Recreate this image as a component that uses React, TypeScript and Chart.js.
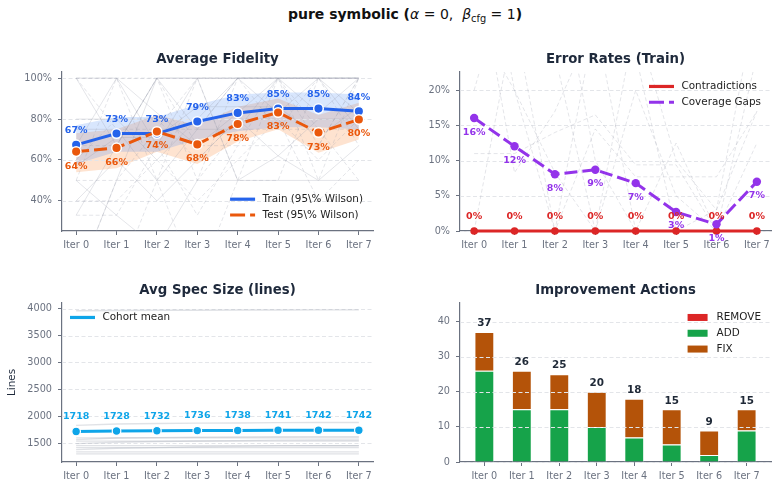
import { useEffect, useRef } from "react";
import { Chart, registerables } from "chart.js";

Chart.register(...registerables);

const FONT = "'DejaVu Sans', 'Liberation Sans', sans-serif";

// ---- shared iteration axis ----
const iterations = [0, 1, 2, 3, 4, 5, 6, 7];
const iterLabels = ["Iter 0", "Iter 1", "Iter 2", "Iter 3", "Iter 4", "Iter 5", "Iter 6", "Iter 7"];

// ---- Average Fidelity (%) ----
const trainFidelity = [67.4, 72.9, 72.9, 78.8, 83.0, 85.1, 85.1, 83.8];
const testFidelity = [64.1, 65.9, 73.9, 67.6, 77.6, 83.2, 73.4, 79.8];
const trainHigh = [77, 81, 81, 87, 92, 93, 93, 92];
const trainLow = [58, 64, 64, 70, 74, 76, 76, 75];
const testHigh = [73, 75, 82, 77, 86, 90, 82, 88];
const testLow = [54, 56, 64, 58, 69, 75, 63.5, 70];
const fidelityTicks = [40, 60, 80, 100];

// per-spec trajectories behind the means
const trainRuns = [
  [100, 67, 100, 100, 100, 100, 100, 100],
  [33, 67, 100, 75, 100, 100, 83, 100],
  [50, 33, 17, 50, 50, 62, 50, 50],
  [100, 100, 83, 67, 83, 100, 100, 100],
  [67, 100, 67, 100, 100, 83, 100, 83],
  [57, 71, 71, 86, 86, 86, 71, 86],
  [0, 50, 100, 100, 50, 50, 50, 67],
  [80, 80, 60, 80, 100, 100, 100, 100],
  [40, 60, 40, 60, 80, 62, 80, 80],
  [75, 75, 50, 75, 75, 100, 100, 75],
];
const testRuns = [
  [100, 100, 100, 50, 100, 100, 67, 100],
  [50, 50, 75, 75, 100, 100, 75, 75],
  [33, 33, 67, 33, 67, 67, 67, 100],
  [0, 50, 50, 100, 50, 100, 50, 100],
  [67, 67, 100, 67, 67, 100, 100, 67],
  [60, 80, 80, 60, 80, 80, 60, 80],
  [25, 0, 50, 50, 75, 75, 75, 50],
  [100, 75, 75, 100, 100, 75, 100, 100],
  [40, 40, 60, 40, 60, 80, 40, 60],
  [50, 100, 50, 0, 50, 50, 100, 100],
];

// ---- Error Rates (Train, %) ----
const contradictions = [0, 0, 0, 0, 0, 0, 0, 0];
const coverageGaps = [16.05, 12.04, 8.07, 8.7, 6.8, 2.7, 0.95, 7.0];
const errorTicks = [0, 5, 10, 15, 20];
const gapRuns = [
  [0, 30, 40, 10, 0, 0, 0, 0],
  [30, 20, 0, 30, 25, 0, 3, 17],
  [11, 11, 14, 16.5, 9.4, 9.4, 0, 12.5],
  [40, 8.3, 17, 30, 0, 12.5, 0, 25],
  [25, 30, 0, 14.5, 7.7, 7.7, 7.7, 17],
  [50, 20, 8.3, 0, 20, 5, 0, 0],
  [20, 40, 25, 0, 30, 10, 3, 33],
];

// ---- Avg Spec Size (lines) ----
const specMean = [1718, 1728, 1732, 1736, 1738, 1741, 1742, 1742];
const specTicks = [1500, 2000, 2500, 3000, 3500, 4000];
const specRuns = [
  [3960, 3965, 3968, 3970, 3972, 3974, 3975, 3975],
  [1833, 1858, 1866, 1874, 1878, 1884, 1886, 1886],
  [1600, 1600, 1600, 1600, 1600, 1600, 1600, 1600],
  [1568, 1598, 1606, 1612, 1616, 1622, 1624, 1624],
  [1540, 1540, 1540, 1540, 1540, 1540, 1540, 1540],
  [1494, 1520, 1532, 1544, 1550, 1558, 1562, 1562],
  [1457, 1457, 1457, 1457, 1457, 1457, 1457, 1457],
  [1420, 1420, 1420, 1420, 1420, 1420, 1420, 1420],
  [1383, 1407, 1420, 1436, 1442, 1453, 1455, 1455],
  [1340, 1340, 1340, 1340, 1340, 1340, 1340, 1340],
  [1303, 1303, 1303, 1303, 1303, 1303, 1303, 1303],
];

// ---- Improvement Actions (counts) ----
const removeCounts = [0, 0, 0, 0, 0, 0, 0, 0];
const addCounts = [26, 15, 15, 10, 7, 5, 2, 9];
const fixCounts = [11, 11, 10, 10, 11, 10, 7, 6];
const actionTicks = [0, 10, 20, 30, 40];

// ---- styling ----
const INK = "#1e293b";
const LEGEND_INK = "#222222";
const TICK = "#6b7280";
const SPINE = "#6b7280";
const GRID = "#e3e5e9";
const RUN = "rgba(150,156,170,0.26)";
const BLUE = "#2563eb";
const ORANGE = "#ea580c";
const RED = "#dc2626";
const PURPLE = "#9333ea";
const SKY = "#0ea5e9";
const GREEN = "#16a34a";
const BROWN = "#b45309";

const pts = (values: number[]) => values.map((y, i) => ({ x: iterations[i], y }));

function iterAxis(min: number, max: number, extra: any = {}) {
  return {
    type: "linear",
    min,
    max,
    offset: false,
    ...extra,
    afterBuildTicks: (s: any) => {
      s.ticks = iterations.map((v) => ({ value: v }));
    },
    afterFit: (s: any) => {
      s.height = 25;
    },
    ticks: {
      autoSkip: false,
      maxRotation: 0,
      color: TICK,
      padding: 5,
      font: { family: FONT, size: 9.7 },
      callback: (v: number) => iterLabels[v] ?? "",
    },
    grid: {
      offset: false,
      drawOnChartArea: false,
      drawTicks: true,
      tickLength: 4,
      tickColor: SPINE,
      lineWidth: 1,
    },
    border: { display: true, color: SPINE, width: 1.2 },
  };
}

function valueAxis(min: number, max: number, ticks: number[], fmt: (v: number) => string, title?: string, extra: any = {}) {
  return {
    type: "linear",
    min,
    max,
    ...extra,
    afterBuildTicks: (s: any) => {
      s.ticks = ticks.map((v) => ({ value: v }));
    },
    afterFit: (s: any) => {
      s.width = 62;
    },
    ticks: { color: TICK, padding: 6, font: { family: FONT, size: 9.7 }, callback: (v: number) => fmt(v) },
    grid: { drawOnChartArea: false, drawTicks: true, tickLength: 4, tickColor: SPINE, lineWidth: 1 },
    border: { display: true, color: SPINE, width: 1.2 },
    title: title
      ? { display: true, text: title, color: INK, font: { family: FONT, size: 10.4 }, padding: { top: 6, bottom: 0 } }
      : { display: false },
  };
}

function drawGrid(chart: any) {
  const { ctx, chartArea: a, scales } = chart;
  const y = scales.y;
  ctx.save();
  ctx.strokeStyle = GRID;
  ctx.lineWidth = 1;
  ctx.setLineDash([4, 2.5]);
  for (const t of y.ticks) {
    const py = Math.round(y.getPixelForValue(t.value)) + 0.5;
    ctx.beginPath();
    ctx.moveTo(a.left, py);
    ctx.lineTo(a.right, py);
    ctx.stroke();
  }
  ctx.restore();
}

// Dashed horizontal grid, drawn just before the first dataset whose order is <= below
// (or after all datasets when below is null, so it sits over bars).
function gridPlugin(below: number | null) {
  let done = false;
  return {
    id: "dashGrid",
    beforeDatasetsDraw() {
      done = false;
    },
    beforeDatasetDraw(chart: any, args: any) {
      if (below !== null && !done && args.meta.order <= below) {
        drawGrid(chart);
        done = true;
      }
    },
    afterDatasetsDraw(chart: any) {
      if (!done) {
        drawGrid(chart);
        done = true;
      }
    },
  };
}

type LabelSpec = { ds: number; values: number[]; fmt: (v: number) => string; color: string; dy: number; size: number; fromScale?: boolean };

function labelPlugin(specs: LabelSpec[]) {
  return {
    id: "valueLabels",
    afterDatasetsDraw(chart: any) {
      const ctx = chart.ctx;
      ctx.save();
      ctx.textAlign = "center";
      ctx.textBaseline = "middle";
      for (const s of specs) {
        const meta = chart.getDatasetMeta(s.ds);
        ctx.font = `bold ${s.size}px ${FONT}`;
        ctx.fillStyle = s.color;
        meta.data.forEach((el: any, i: number) => {
          const y = s.fromScale ? chart.scales.y.getPixelForValue(s.values[i]) : el.y;
          ctx.fillText(s.fmt(s.values[i]), el.x, y + s.dy);
        });
      }
      ctx.restore();
    },
  };
}

type LegendItem = { label: string; color: string; kind: "line" | "box"; dash?: number[] };

function legendPlugin(items: LegendItem[], corner: "ur" | "lr" | "ul") {
  return {
    id: "cornerLegend",
    afterDraw(chart: any) {
      const { ctx, chartArea: a } = chart;
      ctx.save();
      ctx.font = `10.4px ${FONT}`;
      const maxW = Math.max(...items.map((it) => ctx.measureText(it.label).width));
      const rowH = 15.8;
      const textX = corner === "ul" ? a.left + 40.5 : a.right - 10 - maxW;
      const firstY = corner === "lr" ? a.bottom - 16 - rowH * (items.length - 1) : a.top + 14.5;
      items.forEach((it, i) => {
        const cy = firstY + i * rowH;
        if (it.kind === "line") {
          ctx.strokeStyle = it.color;
          ctx.lineWidth = 3.2;
          ctx.setLineDash(it.dash ?? []);
          ctx.beginPath();
          ctx.moveTo(textX - 7.5 - 25, cy);
          ctx.lineTo(textX - 7.5, cy);
          ctx.stroke();
          ctx.setLineDash([]);
        } else {
          ctx.fillStyle = it.color;
          ctx.fillRect(textX - 9 - 20, cy - 3.5, 20, 7);
        }
        ctx.fillStyle = LEGEND_INK;
        ctx.textAlign = "left";
        ctx.textBaseline = "middle";
        ctx.fillText(it.label, textX, cy);
      });
      ctx.restore();
    },
  };
}

function baseOptions(title: string, padRight: number, x: any, y: any) {
  return {
    responsive: false,
    animation: false,
    devicePixelRatio: 1,
    events: [],
    layout: { padding: { left: 0, right: padRight, top: 0, bottom: 0 } },
    plugins: {
      legend: { display: false },
      tooltip: { enabled: false },
      title: {
        display: true,
        text: title,
        color: INK,
        fullSize: false,
        font: { family: FONT, size: 13.3, weight: "bold" },
        padding: { top: 12, bottom: 4 },
      },
    },
    scales: { x, y },
  };
}

const pct = (v: number) => `${Math.round(v)}%`;

function fidelityConfig(): any {
  const band = (data: number[], fill: any, color: string) => ({
    data: pts(data),
    fill,
    backgroundColor: color,
    borderColor: "transparent",
    borderWidth: 0,
    pointRadius: 0,
    order: 30,
  });
  return {
    type: "line",
    data: {
      datasets: [
        {
          data: pts(trainFidelity),
          borderColor: BLUE,
          borderWidth: 3,
          pointRadius: 4.8,
          pointBackgroundColor: BLUE,
          pointBorderColor: "#ffffff",
          pointBorderWidth: 1.5,
          order: 1,
          clip: false,
        },
        {
          data: pts(testFidelity),
          borderColor: ORANGE,
          borderWidth: 3,
          borderDash: [13, 5],
          pointRadius: 4.8,
          pointBackgroundColor: ORANGE,
          pointBorderColor: "#ffffff",
          pointBorderWidth: 1.5,
          order: 0,
          clip: false,
        },
        band(trainHigh, "+1", "rgba(59,130,246,0.2)"),
        band(trainLow, false, "transparent"),
        band(testHigh, "+1", "rgba(249,115,22,0.2)"),
        band(testLow, false, "transparent"),
        ...trainRuns.map((r) => ({ data: pts(r), borderColor: RUN, borderWidth: 1, pointRadius: 0, order: 20 })),
        ...testRuns.map((r) => ({
          data: pts(r),
          borderColor: RUN,
          borderWidth: 1,
          borderDash: [4, 2.5],
          pointRadius: 0,
          order: 20,
        })),
      ],
    },
    options: baseOptions(
      "Average Fidelity",
      16,
      iterAxis(-0.35, 7.35),
      valueAxis(25.3, 103, fidelityTicks, (v) => `${v}%`)
    ),
    plugins: [
      gridPlugin(20),
      labelPlugin([
        { ds: 0, values: trainFidelity, fmt: pct, color: BLUE, dy: -14, size: 9.5 },
        { ds: 1, values: testFidelity, fmt: pct, color: ORANGE, dy: 14.5, size: 9.5 },
      ]),
      legendPlugin(
        [
          { label: "Train (95\\% Wilson)", color: BLUE, kind: "line" },
          { label: "Test (95\\% Wilson)", color: ORANGE, kind: "line", dash: [15, 5] },
        ],
        "lr"
      ),
    ],
  };
}

function errorConfig(): any {
  return {
    type: "line",
    data: {
      datasets: [
        {
          data: pts(contradictions),
          borderColor: RED,
          borderWidth: 3,
          pointRadius: 3.8,
          pointBackgroundColor: RED,
          pointBorderWidth: 0,
          order: 1,
          clip: false,
        },
        {
          data: pts(coverageGaps),
          borderColor: PURPLE,
          borderWidth: 3,
          borderDash: [13, 5],
          pointRadius: 4.2,
          pointBackgroundColor: PURPLE,
          pointBorderWidth: 0,
          order: 0,
          clip: false,
        },
        ...gapRuns.map((r) => ({
          data: pts(r),
          borderColor: RUN,
          borderWidth: 1,
          borderDash: [4, 2.5],
          pointRadius: 0,
          order: 20,
        })),
      ],
    },
    options: baseOptions(
      "Error Rates (Train)",
      7,
      iterAxis(-0.35, 7.35),
      valueAxis(0, 22.6, errorTicks, (v) => `${v}%`)
    ),
    plugins: [
      gridPlugin(100),
      labelPlugin([
        { ds: 0, values: contradictions, fmt: pct, color: RED, dy: -14, size: 9.5 },
        { ds: 1, values: coverageGaps, fmt: pct, color: PURPLE, dy: 14, size: 9.5 },
      ]),
      legendPlugin(
        [
          { label: "Contradictions", color: RED, kind: "line" },
          { label: "Coverage Gaps", color: PURPLE, kind: "line", dash: [15, 5] },
        ],
        "ur"
      ),
    ],
  };
}

function specConfig(): any {
  return {
    type: "line",
    data: {
      datasets: [
        {
          data: pts(specMean),
          borderColor: SKY,
          borderWidth: 3,
          pointRadius: 4.3,
          pointBackgroundColor: SKY,
          pointBorderColor: "#ffffff",
          pointBorderWidth: 1.2,
          order: 0,
          clip: false,
        },
        ...specRuns.map((r) => ({
          data: pts(r),
          borderColor: "rgba(160,165,178,0.32)",
          borderWidth: 1.4,
          pointRadius: 0,
          order: 20,
        })),
      ],
    },
    options: baseOptions(
      "Avg Spec Size (lines)",
      16,
      iterAxis(-0.35, 7.35),
      valueAxis(1153, 4104, specTicks, (v) => `${v}`, "Lines")
    ),
    plugins: [
      gridPlugin(100),
      labelPlugin([{ ds: 0, values: specMean, fmt: (v) => `${v}`, color: SKY, dy: -14.6, size: 9.5 }]),
      legendPlugin([{ label: "Cohort mean", color: SKY, kind: "line" }], "ul"),
    ],
  };
}

function actionsConfig(): any {
  const totals = addCounts.map((a, i) => a + fixCounts[i] + removeCounts[i]);
  const bar = (data: number[], color: string, edge: number) => ({
    data: pts(data),
    backgroundColor: color,
    borderColor: "#ffffff",
    borderWidth: edge,
    categoryPercentage: 1,
    barPercentage: 0.53,
  });
  return {
    type: "bar",
    data: {
      datasets: [bar(removeCounts, RED, 0), bar(addCounts, GREEN, 1), bar(fixCounts, BROWN, 1)],
    },
    options: baseOptions(
      "Improvement Actions",
      7,
      iterAxis(-0.65, 7.65, { stacked: true }),
      valueAxis(0, 45.3, actionTicks, (v) => `${v}`, undefined, { stacked: true })
    ),
    plugins: [
      gridPlugin(null),
      labelPlugin([{ ds: 2, values: totals, fmt: (v) => `${v}`, color: "#1f2937", dy: -8.5, size: 10.4, fromScale: true }]),
      legendPlugin(
        [
          { label: "REMOVE", color: RED, kind: "box" },
          { label: "ADD", color: GREEN, kind: "box" },
          { label: "FIX", color: BROWN, kind: "box" },
        ],
        "ur"
      ),
    ],
  };
}

function Panel({ make, left, top, width, height }: { make: () => any; left: number; top: number; width: number; height: number }) {
  const ref = useRef<HTMLCanvasElement | null>(null);
  useEffect(() => {
    if (!ref.current) return;
    const chart = new Chart(ref.current, make());
    return () => chart.destroy();
  }, [make]);
  return <canvas ref={ref} width={width} height={height} style={{ position: "absolute", left, top, width, height }} />;
}

export default function App() {
  return (
    <div
      style={{
        position: "fixed",
        left: 0,
        top: 0,
        width: 778,
        height: 487,
        overflow: "hidden",
        background: "#ffffff",
      }}
    >
      <div
        style={{
          position: "absolute",
          left: 0,
          top: 4,
          width: 810,
          textAlign: "center",
          fontFamily: FONT,
          fontSize: 14,
          lineHeight: "20px",
          color: "#111111",
          fontWeight: "bold",
          whiteSpace: "nowrap",
        }}
      >
        pure symbolic (
        <span style={{ fontWeight: "normal" }}>
          <i>α</i> = 0,&nbsp; <i>β</i>
          <span style={{ fontSize: "70%", position: "relative", top: 3 }}>cfg</span> = 1
        </span>
        )
      </div>
      <Panel make={fidelityConfig} left={0} top={40} width={389} height={216} />
      <Panel make={errorConfig} left={398} top={40} width={380} height={216} />
      <Panel make={specConfig} left={0} top={271} width={389} height={216} />
      <Panel make={actionsConfig} left={398} top={271} width={380} height={216} />
    </div>
  );
}
